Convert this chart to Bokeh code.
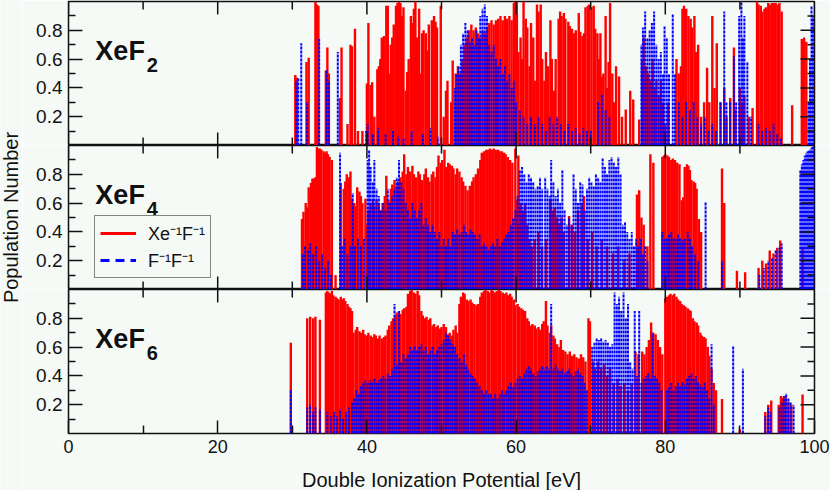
import math
from bokeh.plotting import figure
from bokeh.models import (ColumnDataSource, FixedTicker, Label, Legend, LegendItem, Title)
from bokeh.layouts import column, row
from bokeh.embed import file_html
from bokeh.resources import INLINE

# ---------------- data (position eV, population) ----------------
XEF2_RED = [(30.4,0.49),(30.6,0.47),(31.9,0.58),(32.2,0.61),(33.1,1.0),(33.3,0.98),(33.5,0.97),(34.5,0.52),(34.7,0.68),(34.9,0.50),(36.4,0.33),(36.6,0.68),(37.4,0.15),(37.8,0.70),(38.0,0.69),(38.4,0.81),(38.8,0.10),(39.4,0.10),(40.0,0.43),(40.2,0.85),(40.5,0.42),(40.7,0.44),(41.0,0.20),(41.4,0.53),(41.6,0.55),(41.8,0.60),(42.0,0.75),(42.3,0.76),(42.6,0.97),(42.8,0.97),(43.0,0.50),(43.2,0.70),(43.4,0.75),(43.6,0.84),(43.9,0.97),(44.1,0.99),(44.3,1.0),(44.5,0.99),(44.7,0.90),(44.9,0.96),(45.2,0.38),(45.4,0.51),(45.6,0.60),(45.9,0.90),(46.1,0.85),(46.3,0.95),(46.5,1.0),(46.7,0.75),(47.0,0.95),(47.2,0.50),(47.4,0.78),(47.6,0.80),(47.9,0.78),(48.1,0.66),(48.3,0.84),(48.7,0.87),(49.0,0.90),(49.2,0.86),(49.4,0.82),(49.9,0.97),(50.3,0.20),(50.6,0.38),(50.8,0.45),(51.3,0.30),(51.5,0.59),(51.9,0.50),(52.2,0.55),(52.5,0.50),(52.8,0.60),(53.1,0.70),(53.4,0.75),(53.7,0.80),(54.0,0.84),(54.3,0.80),(54.6,0.82),(54.9,0.78),(55.2,0.75),(55.5,0.80),(55.8,0.78),(56.1,0.82),(56.4,0.85),(56.7,0.87),(57.0,0.84),(57.3,0.87),(57.6,0.88),(57.9,0.90),(58.2,0.87),(58.5,0.90),(58.8,0.88),(59.1,0.90),(59.4,0.87),(59.7,0.99),(59.9,1.0),(60.1,1.0),(60.3,0.65),(60.6,0.75),(60.8,0.60),(61.0,1.0),(61.3,0.88),(61.5,0.82),(61.8,0.55),(62.0,0.85),(62.3,0.75),(62.5,0.45),(62.8,0.98),(63.0,0.93),(63.3,0.98),(63.5,0.60),(63.8,0.45),(64.0,0.65),(64.3,0.55),(64.6,0.87),(64.8,0.60),(65.1,0.38),(65.3,0.60),(65.7,0.88),(65.9,0.93),(66.1,0.90),(66.4,0.92),(66.6,0.88),(67.0,0.86),(67.2,0.83),(67.5,0.81),(67.8,0.78),(68.0,0.80),(68.4,0.92),(68.6,0.79),(68.9,0.76),(69.1,0.78),(69.3,0.96),(69.6,0.97),(69.8,0.98),(70.1,0.96),(70.4,0.97),(70.6,0.81),(70.9,0.78),(71.1,0.60),(71.3,0.78),(71.5,0.48),(71.7,0.50),(72.0,0.90),(72.2,0.40),(72.4,0.58),(72.6,0.99),(72.9,0.50),(73.1,0.30),(73.4,0.55),(73.8,0.48),(74.2,0.20),(74.7,0.25),(75.3,0.38),(75.7,0.32),(76.5,0.18),(76.9,0.60),(77.1,0.75),(77.4,0.55),(77.7,0.50),(78.0,0.45),(78.3,0.60),(78.6,0.40),(78.8,0.45),(79.1,0.35),(79.4,0.45),(79.7,0.30),(80.0,0.15),(80.4,0.30),(81.5,0.60),(81.8,0.50),(82.1,0.55),(82.3,0.95),(82.5,0.97),(82.8,0.95),(83.1,0.90),(83.4,0.88),(83.6,0.82),(83.9,0.90),(84.1,0.65),(84.4,0.70),(84.8,0.20),(85.2,0.30),(85.6,0.54),(85.9,0.30),(86.3,0.90),(86.6,0.40),(86.9,0.71),(87.4,0.30),(87.9,0.40),(88.2,0.20),(88.7,0.33),(89.2,0.68),(89.4,0.25),(90.0,0.40),(90.3,0.30),(90.6,0.35),(91.2,0.20),(91.7,0.26),(92.3,1.0),(92.5,0.98),(92.8,0.97),(93.0,0.93),(93.3,0.95),(93.5,0.96),(93.8,0.99),(94.0,0.98),(94.3,0.99),(94.6,0.99),(94.8,0.99),(95.1,0.98),(95.3,0.99),(95.6,0.93),(97.0,0.28),(98.3,0.74),(98.6,0.75),(98.9,0.72)]

XEF2_BLUE = [(30.5,0.45),(30.8,0.47),(31.2,0.71),(32.0,0.30),(33.6,0.74),(34.6,0.52),(34.9,0.45),(36.1,0.65),(39.9,0.10),(40.1,0.15),(40.8,0.08),(41.5,0.12),(42.5,0.08),(43.5,0.10),(44.2,0.06),(44.9,0.05),(46.0,0.10),(47.5,0.08),(48.5,0.12),(49.5,0.06),(51.8,0.40),(52.0,0.50),(52.3,0.55),(52.6,0.70),(52.9,0.78),(53.2,0.85),(53.5,0.80),(53.8,0.72),(54.1,0.75),(54.4,0.70),(54.7,0.80),(55.0,0.75),(55.2,0.90),(55.5,0.95),(55.8,0.98),(56.1,0.90),(56.4,0.70),(56.7,0.65),(57.0,0.70),(57.3,0.60),(57.6,0.55),(57.9,0.60),(58.2,0.50),(58.5,0.55),(58.8,0.45),(59.1,0.50),(59.4,0.40),(59.7,0.45),(60.0,0.30),(60.5,0.25),(61.0,0.20),(61.5,0.15),(62.0,0.20),(62.5,0.15),(63.0,0.20),(63.5,0.15),(64.0,0.10),(64.5,0.20),(65.0,0.15),(65.5,0.20),(66.0,0.15),(66.5,0.10),(67.0,0.15),(67.5,0.10),(68.0,0.12),(68.5,0.08),(69.0,0.12),(69.5,0.10),(70.0,0.10),(71.0,0.30),(71.5,0.35),(72.0,0.25),(72.5,0.20),(76.8,0.70),(77.0,0.82),(77.3,0.93),(77.6,0.75),(77.9,0.80),(78.2,0.85),(78.5,0.93),(78.8,0.70),(79.1,0.60),(79.4,0.65),(79.7,0.50),(79.9,0.83),(80.2,0.75),(80.5,0.50),(81.0,0.91),(81.3,0.50),(81.8,0.30),(82.3,0.20),(82.8,0.30),(83.3,0.25),(83.8,0.30),(84.3,0.20),(84.8,0.15),(85.3,0.20),(85.8,0.10),(86.3,0.15),(86.8,0.10),(87.4,0.30),(87.9,0.93),(88.2,0.30),(88.7,0.30),(89.2,0.62),(89.5,0.30),(89.9,0.90),(90.2,1.0),(90.4,0.75),(90.6,0.90),(91.0,0.58),(91.5,0.20),(92.5,0.15),(93.0,0.10),(93.5,0.12),(94.0,0.10),(94.5,0.15),(95.0,0.08),(95.5,0.05),(99.2,0.30),(99.4,0.60),(99.6,0.97),(99.8,0.90)]

XEF4_RED = [(31.3,0.49),(31.5,0.54),(31.8,0.60),(32.0,0.57),(32.2,0.71),(32.5,0.74),(32.7,0.77),(32.9,0.77),(33.1,0.78),(33.3,0.99),(33.5,0.98),(33.7,0.98),(33.9,0.97),(34.2,0.96),(34.4,0.95),(34.6,0.96),(34.8,0.94),(35.0,0.92),(35.3,0.90),(35.8,0.10),(36.5,0.74),(36.9,0.70),(37.1,0.75),(37.3,0.80),(37.6,0.78),(37.8,0.82),(38.0,0.63),(38.3,0.60),(38.5,0.58),(38.7,0.71),(39.0,0.68),(39.2,0.65),(39.4,0.60),(39.8,0.63),(40.0,0.45),(40.2,0.55),(40.5,0.60),(40.8,0.62),(41.0,0.58),(41.3,0.62),(41.6,0.60),(41.8,0.55),(42.1,0.60),(42.4,0.65),(42.6,0.79),(42.9,0.62),(43.2,0.70),(43.4,0.73),(43.7,0.76),(44.0,0.72),(44.2,0.75),(44.5,0.78),(44.8,0.82),(45.0,0.94),(45.3,0.80),(45.5,0.85),(45.8,0.82),(46.1,0.86),(46.3,0.80),(46.6,0.78),(46.9,0.82),(47.1,0.80),(47.4,0.76),(47.7,0.80),(47.9,0.84),(48.2,0.78),(48.4,0.75),(48.7,0.80),(48.9,0.82),(49.2,0.78),(49.4,0.85),(49.6,0.93),(49.9,0.88),(50.1,0.90),(50.4,0.97),(50.6,0.85),(50.9,0.88),(51.1,0.87),(51.4,0.86),(51.6,0.84),(51.9,0.80),(52.1,0.84),(52.4,0.82),(52.7,0.78),(52.9,0.75),(53.2,0.72),(53.5,0.69),(53.8,0.72),(54.1,0.75),(54.3,0.78),(54.6,0.80),(54.9,0.84),(55.2,0.90),(55.4,0.95),(55.7,0.96),(56.0,0.97),(56.2,0.97),(56.5,0.98),(56.8,0.97),(57.0,0.98),(57.3,0.97),(57.6,0.97),(57.8,0.96),(58.1,0.96),(58.4,0.95),(58.6,0.94),(58.9,0.92),(59.2,0.90),(59.5,0.88),(59.9,0.98),(60.1,0.62),(60.3,0.93),(60.6,0.60),(60.9,0.55),(61.2,0.60),(61.5,0.45),(61.8,0.35),(62.1,0.30),(62.5,0.35),(63.0,0.40),(63.5,0.30),(64.0,0.35),(64.6,0.62),(64.9,0.55),(65.2,0.57),(65.5,0.50),(65.8,0.45),(66.1,0.50),(66.4,0.40),(67.1,0.51),(67.5,0.45),(67.9,0.40),(68.3,0.55),(68.8,0.60),(69.1,0.65),(69.6,0.35),(70.2,0.40),(70.8,0.30),(71.5,0.35),(72.2,0.30),(73.0,0.25),(73.7,0.30),(74.5,0.20),(75.2,0.25),(76.2,0.66),(76.5,0.69),(76.8,0.50),(77.1,0.45),(77.6,0.30),(78.0,0.94),(78.4,0.88),(79.6,0.92),(79.8,0.93),(80.0,0.94),(80.3,0.93),(80.5,0.92),(80.8,0.90),(81.0,0.91),(81.3,0.90),(81.6,0.88),(81.9,0.87),(82.2,0.62),(82.4,0.64),(82.6,0.85),(82.9,0.87),(83.1,0.86),(83.3,0.83),(83.5,0.76),(83.8,0.75),(84.0,0.74),(84.2,0.70),(84.5,0.49),(84.8,0.40),(87.6,0.84),(87.9,0.60),(89.6,0.13),(90.7,0.12),(92.5,0.15),(93.0,0.20),(93.5,0.18),(94.0,0.27),(94.5,0.25),(95.0,0.29),(95.4,0.34),(98.4,0.28)]

XEF4_BLUE = [(31.4,0.25),(31.7,0.30),(32.1,0.28),(32.4,0.32),(32.8,0.25),(33.2,0.30),(33.6,0.20),(34.0,0.25),(34.4,0.15),(34.8,0.20),(35.2,0.10),(36.4,0.95),(36.7,0.30),(37.0,0.35),(37.4,0.25),(37.8,0.30),(38.1,0.67),(38.4,0.30),(38.8,0.35),(39.2,0.30),(39.6,0.35),(40.1,0.90),(40.3,0.97),(40.5,0.85),(40.8,0.75),(41.0,0.90),(41.3,0.70),(41.6,0.65),(41.9,0.55),(42.2,0.60),(42.5,0.55),(42.8,0.70),(43.1,0.60),(43.4,0.65),(43.7,0.70),(44.0,0.78),(44.3,0.90),(44.6,0.75),(44.9,0.70),(45.2,0.60),(45.5,0.55),(45.8,0.50),(46.1,0.60),(46.4,0.55),(46.7,0.50),(47.0,0.55),(47.3,0.60),(47.6,0.45),(47.9,0.50),(48.2,0.45),(48.5,0.40),(48.8,0.45),(49.1,0.40),(49.4,0.35),(49.7,0.40),(50.0,0.30),(50.3,0.35),(50.6,0.30),(50.9,0.35),(51.2,0.30),(51.5,0.40),(51.8,0.38),(52.1,0.42),(52.4,0.38),(52.7,0.40),(53.0,0.45),(53.3,0.40),(53.6,0.38),(53.9,0.42),(54.2,0.40),(54.5,0.38),(54.8,0.35),(55.1,0.38),(55.4,0.30),(55.7,0.32),(56.0,0.30),(56.3,0.28),(56.6,0.30),(56.9,0.32),(57.2,0.30),(57.5,0.35),(57.8,0.30),(58.1,0.33),(58.4,0.35),(58.7,0.38),(59.0,0.40),(59.3,0.45),(59.6,0.50),(59.9,0.55),(60.2,0.65),(60.5,0.83),(60.8,0.85),(61.1,0.80),(61.4,0.75),(61.7,0.80),(62.0,0.78),(62.3,0.75),(62.6,0.70),(62.9,0.72),(63.2,0.78),(63.5,0.70),(63.9,0.78),(64.2,0.70),(64.5,0.65),(64.7,0.90),(65.0,0.75),(65.3,0.65),(65.6,0.70),(65.9,0.60),(66.2,0.83),(66.5,0.55),(66.8,0.45),(67.1,0.50),(67.4,0.45),(67.7,0.80),(68.0,0.70),(68.3,0.60),(68.6,0.75),(68.9,0.73),(69.2,0.55),(69.5,0.70),(69.8,0.78),(70.1,0.75),(70.4,0.72),(70.7,0.80),(71.0,0.78),(71.3,0.75),(71.6,0.91),(71.9,0.85),(72.2,0.80),(72.5,0.90),(72.8,0.92),(73.1,0.88),(73.4,0.85),(73.7,0.92),(74.0,0.80),(74.3,0.45),(74.6,0.47),(74.9,0.40),(75.2,0.35),(75.5,0.40),(75.8,0.30),(76.1,0.35),(76.4,0.30),(76.7,0.35),(77.0,0.25),(77.3,0.30),(77.6,0.20),(79.6,0.40),(79.9,0.35),(80.2,0.36),(80.5,0.38),(80.8,0.40),(81.1,0.36),(81.4,0.35),(81.7,0.38),(82.0,0.36),(82.3,0.34),(82.6,0.35),(83.0,0.40),(83.3,0.35),(83.6,0.30),(84.0,0.25),(84.4,0.20),(85.4,0.61),(87.6,0.20),(92.6,0.10),(93.2,0.15),(93.8,0.20),(94.3,0.22),(94.8,0.27),(95.3,0.29),(95.6,0.32),(98.1,0.83),(98.3,0.87),(98.5,0.90),(98.7,0.93),(98.9,0.95),(99.1,0.96),(99.3,0.97),(99.5,0.98),(99.7,0.99),(99.9,1.0)]

XEF6_RED = [(29.8,0.63),(32.0,0.80),(32.4,0.81),(32.8,0.80),(33.1,0.81),(33.7,0.79),(34.5,0.98),(34.7,0.99),(34.9,0.98),(35.1,0.97),(35.3,0.99),(35.5,0.96),(35.8,0.95),(36.0,0.94),(36.2,0.93),(36.5,0.95),(36.7,0.93),(36.9,0.94),(37.1,0.92),(37.4,0.90),(37.6,0.88),(37.8,0.87),(38.0,0.85),(38.2,0.70),(38.5,0.72),(38.7,0.74),(39.0,0.71),(39.2,0.70),(39.5,0.72),(39.7,0.69),(40.0,0.68),(40.2,0.70),(40.5,0.68),(40.7,0.67),(41.0,0.69),(41.2,0.68),(41.5,0.66),(41.7,0.68),(42.0,0.66),(42.3,0.67),(42.5,0.68),(42.8,0.72),(43.0,0.75),(43.3,0.78),(43.5,0.80),(43.8,0.82),(44.0,0.84),(44.3,0.85),(44.5,0.83),(44.8,0.86),(45.0,0.87),(45.3,0.88),(45.5,0.97),(45.8,0.99),(46.0,1.0),(46.3,0.98),(46.5,0.97),(46.8,0.99),(47.0,0.96),(47.3,0.85),(47.5,0.82),(47.8,0.80),(48.0,0.81),(48.3,0.79),(48.5,0.80),(48.8,0.75),(49.0,0.76),(49.3,0.74),(49.5,0.75),(49.8,0.73),(50.0,0.74),(50.3,0.76),(50.6,0.74),(50.9,0.69),(51.1,0.70),(51.4,0.68),(51.6,0.72),(51.9,0.75),(52.1,0.70),(52.4,0.90),(52.6,0.95),(52.9,0.98),(53.1,0.97),(53.4,0.93),(53.6,0.92),(53.9,0.93),(54.1,0.91),(54.4,0.90),(54.7,0.89),(54.9,0.90),(55.2,0.95),(55.4,0.98),(55.7,0.99),(55.9,1.0),(56.2,0.99),(56.4,0.98),(56.7,1.0),(56.9,0.99),(57.2,0.98),(57.4,0.99),(57.7,1.0),(57.9,0.99),(58.2,0.98),(58.4,0.97),(58.7,0.98),(58.9,0.96),(59.2,0.97),(59.4,0.95),(59.7,0.93),(59.9,0.89),(60.2,0.90),(60.4,0.88),(60.7,0.87),(60.9,0.86),(61.2,0.85),(61.5,0.80),(61.7,0.78),(62.0,0.75),(62.2,0.76),(62.5,0.75),(62.7,0.73),(63.0,0.74),(63.2,0.72),(63.5,0.76),(63.7,0.78),(64.0,0.92),(64.2,0.75),(64.5,0.70),(64.7,0.75),(65.0,0.68),(65.2,0.66),(65.5,0.62),(65.8,0.60),(66.0,0.65),(66.3,0.58),(66.6,0.57),(66.9,0.55),(67.2,0.57),(67.5,0.54),(67.8,0.55),(68.1,0.53),(68.4,0.52),(68.7,0.55),(69.0,0.53),(69.3,0.50),(69.7,0.80),(69.9,0.78),(70.3,0.50),(70.6,0.45),(71.0,0.50),(71.4,0.45),(71.8,0.48),(72.2,0.40),(72.6,0.45),(73.1,0.35),(73.6,0.38),(74.0,0.33),(74.5,0.35),(75.0,0.30),(75.5,0.35),(76.0,0.57),(76.4,0.55),(76.9,0.57),(77.2,0.55),(77.5,0.60),(77.8,0.65),(78.1,0.77),(78.4,0.70),(78.7,0.69),(79.0,0.65),(79.3,0.60),(79.6,0.55),(80.0,0.94),(80.2,0.95),(80.5,0.96),(80.7,0.97),(81.0,0.96),(81.2,0.97),(81.5,0.95),(81.7,0.93),(82.0,0.92),(82.2,0.90),(82.5,0.89),(82.7,0.88),(83.0,0.87),(83.2,0.86),(83.4,0.85),(83.7,0.80),(83.9,0.78),(84.2,0.77),(84.4,0.75),(84.7,0.70),(84.9,0.68),(85.2,0.67),(85.4,0.66),(85.7,0.60),(85.9,0.54),(86.2,0.45),(86.5,0.35),(86.8,0.30),(87.6,0.24),(90.0,0.03),(93.4,0.15),(93.8,0.20),(94.2,0.23),(95.2,0.20),(95.5,0.26),(95.8,0.25),(96.1,0.26),(96.5,0.22),(96.9,0.20),(98.4,0.27)]

XEF6_BLUE = [(29.8,0.30),(32.0,0.18),(32.4,0.20),(32.8,0.15),(33.1,0.18),(33.7,0.17),(34.7,0.15),(35.2,0.12),(35.6,0.15),(36.0,0.12),(36.4,0.17),(36.8,0.10),(37.2,0.15),(37.6,0.18),(38.0,0.22),(38.3,0.25),(38.6,0.30),(38.9,0.28),(39.2,0.33),(39.5,0.35),(39.8,0.37),(40.1,0.35),(40.4,0.37),(40.7,0.36),(41.0,0.38),(41.3,0.35),(41.6,0.37),(41.9,0.38),(42.2,0.40),(42.5,0.38),(42.8,0.42),(43.1,0.40),(43.4,0.45),(43.7,0.90),(44.0,0.48),(44.3,0.85),(44.6,0.50),(44.9,0.55),(45.2,0.52),(45.5,0.55),(45.8,0.60),(46.1,0.58),(46.4,0.61),(46.7,0.58),(47.0,0.60),(47.3,0.62),(47.6,0.58),(47.9,0.60),(48.2,0.55),(48.5,0.58),(48.8,0.60),(49.1,0.55),(49.4,0.58),(49.7,0.60),(50.0,0.62),(50.3,0.65),(50.6,0.70),(50.9,0.68),(51.2,0.65),(51.5,0.62),(51.8,0.60),(52.1,0.55),(52.4,0.52),(52.7,0.50),(53.0,0.55),(53.3,0.48),(53.6,0.45),(53.9,0.42),(54.2,0.40),(54.5,0.38),(54.8,0.35),(55.1,0.33),(55.4,0.30),(55.7,0.28),(56.0,0.30),(56.3,0.27),(56.6,0.28),(56.9,0.25),(57.2,0.28),(57.5,0.25),(57.8,0.27),(58.1,0.30),(58.4,0.28),(58.7,0.30),(59.0,0.33),(59.3,0.35),(59.6,0.32),(59.9,0.35),(60.2,0.38),(60.5,0.40),(60.8,0.38),(61.1,0.42),(61.4,0.45),(61.7,0.47),(62.0,0.45),(62.3,0.42),(62.6,0.40),(62.9,0.43),(63.2,0.45),(63.5,0.47),(63.8,0.45),(64.1,0.47),(64.4,0.45),(64.7,0.90),(65.0,0.45),(65.3,0.48),(65.6,0.45),(65.9,0.43),(66.2,0.45),(66.5,0.42),(66.8,0.43),(67.1,0.45),(67.4,0.42),(67.7,0.40),(68.0,0.43),(68.3,0.45),(68.6,0.42),(68.9,0.40),(69.2,0.35),(69.5,0.30),(70.2,0.60),(70.5,0.63),(70.8,0.66),(71.1,0.65),(71.4,0.66),(71.7,0.64),(72.0,0.65),(72.3,0.63),(72.6,0.60),(72.9,0.62),(73.2,0.98),(73.5,0.90),(73.8,0.95),(74.1,0.85),(74.4,0.98),(74.7,0.80),(75.0,0.90),(75.3,0.50),(75.6,0.45),(75.9,0.85),(76.2,0.40),(76.5,0.85),(76.8,0.35),(77.1,0.38),(77.4,0.40),(77.7,0.42),(78.0,0.38),(78.3,0.70),(78.6,0.40),(78.9,0.38),(79.2,0.35),(79.5,0.30),(80.2,0.30),(80.5,0.32),(80.8,0.35),(81.1,0.30),(81.4,0.33),(81.7,0.35),(82.0,0.33),(82.3,0.36),(82.6,0.34),(82.9,0.38),(83.2,0.40),(83.5,0.42),(83.8,0.38),(84.1,0.40),(84.4,0.36),(84.7,0.34),(85.0,0.32),(85.3,0.35),(85.6,0.30),(85.9,0.25),(86.2,0.62),(86.5,0.20),(89.1,0.61),(90.4,0.45),(93.4,0.12),(93.8,0.18),(94.1,0.15),(95.3,0.18),(95.6,0.22),(95.9,0.26),(96.2,0.28),(96.5,0.25),(96.8,0.22),(97.2,0.20)]

MOLECULES = [("XeF", "2"), ("XeF", "4"), ("XeF", "6")]
SERIES_LABELS = ["Xe\u207b\u00b9F\u207b\u00b9", "F\u207b\u00b9F\u207b\u00b9"]
X_TICKS = [0, 20, 40, 60, 80, 100]
X_MINOR = [10, 30, 50, 70, 90]
Y_TICKS = [0.2, 0.4, 0.6, 0.8]
Y_MINOR = [0.1, 0.3, 0.5, 0.7, 0.9]
X_TITLE = "Double Ionization Potential [eV]"
Y_TITLE = "Population Number"

# ---------------- style ----------------
BG = "#f6faf6"
FONT = "Liberation Sans"
INK = "#111111"
RED = "#ff0000"
BLUE = "#0000ff"
FRAME_W = 746
FRAME_H = 144
TITLE_W = 22
TOTAL_H = 490


def style_axis(ax, ticks, minor, tick_len, minor_len, font_px):
    ax.ticker = FixedTicker(ticks=ticks, minor_ticks=minor)
    ax.axis_line_color = None
    ax.major_tick_in = tick_len
    ax.major_tick_out = 0
    ax.minor_tick_in = minor_len
    ax.minor_tick_out = 0
    ax.major_tick_line_width = 1.5
    ax.minor_tick_line_width = 1.5
    ax.major_tick_line_color = INK
    ax.minor_tick_line_color = INK
    ax.major_label_text_font = FONT
    ax.major_label_text_font_size = font_px
    ax.major_label_text_color = INK
    ax.major_label_standoff = 6


def edge_ticks(p, bottom_axis):
    """Inward ticks on the unlabeled frame edges (top, right, and bottom when no axis)."""
    kw = dict(line_color=INK, line_width=1.5, length_units="screen")
    p.ray(x=X_TICKS, y=[1] * len(X_TICKS), length=13, angle=-math.pi / 2, **kw)
    p.ray(x=X_MINOR, y=[1] * len(X_MINOR), length=8, angle=-math.pi / 2, **kw)
    p.ray(x=[100] * len(Y_TICKS), y=Y_TICKS, length=14, angle=math.pi, **kw)
    p.ray(x=[100] * len(Y_MINOR), y=Y_MINOR, length=7, angle=math.pi, **kw)
    if not bottom_axis:
        p.ray(x=X_TICKS, y=[0] * len(X_TICKS), length=13, angle=math.pi / 2, **kw)
        p.ray(x=X_MINOR, y=[0] * len(X_MINOR), length=8, angle=math.pi / 2, **kw)


def split(pairs):
    xs = [a for a, _ in pairs]
    hs = [b for _, b in pairs]
    return dict(x=xs, y0=[0.0] * len(xs), h=hs)


def make_panel(idx, red, blue, first, bottom):
    p = figure(frame_width=FRAME_W, frame_height=FRAME_H,
               x_range=(0, 100), y_range=(0, 1),
               x_axis_location=("below" if bottom else None),
               output_backend="svg", toolbar_location=None,
               min_border_left=68 - TITLE_W, min_border_right=16,
               min_border_top=(1 if first else 0),
               min_border_bottom=(57 if bottom else 0),
               background_fill_color=BG, border_fill_color=BG,
               outline_line_color=INK, outline_line_width=1.5)
    p.xgrid.visible = False
    p.ygrid.visible = False
    if bottom:
        style_axis(p.xaxis[0], X_TICKS, X_MINOR, 13, 8, "18px")
    style_axis(p.yaxis[0], Y_TICKS, Y_MINOR, 14, 7, "19px")

    rs = ColumnDataSource(split(red))
    bs = ColumnDataSource(split(blue))
    p.segment(x0="x", y0="y0", x1="x", y1="h", source=rs,
              line_color=RED, line_width=2.4)
    p.segment(x0="x", y0="y0", x1="x", y1="h", source=bs,
              line_color=BLUE, line_width=2.0, line_dash="3 1")
    edge_ticks(p, bottom)

    name, sub = MOLECULES[idx]
    p.add_layout(Label(x=3.6, y=0.655, text=name, text_font=FONT,
                       text_font_style="bold", text_font_size="27px",
                       text_color=INK, text_baseline="alphabetic"))
    p.add_layout(Label(x=10.5, y=0.56, text=sub, text_font=FONT,
                       text_font_style="bold", text_font_size="20px",
                       text_color=INK, text_baseline="alphabetic"))
    return p


p1 = make_panel(0, XEF2_RED, XEF2_BLUE, True, False)
p2 = make_panel(1, XEF4_RED, XEF4_BLUE, False, False)
p3 = make_panel(2, XEF6_RED, XEF6_BLUE, False, True)

# legend in the middle panel: legend-only line styles (no visible points)
nan = float("nan")
lr = p2.line(x=[nan], y=[nan], line_color=RED, line_width=3)
lb = p2.line(x=[nan], y=[nan], line_color=BLUE, line_width=3, line_dash="9 6")
legend = Legend(items=[LegendItem(label=SERIES_LABELS[0], renderers=[lr]),
                       LegendItem(label=SERIES_LABELS[1], renderers=[lb])],
                location=(26, 11), orientation="vertical",
                border_line_color=INK, border_line_width=1.5,
                background_fill_color=BG, background_fill_alpha=1.0,
                label_text_font=FONT, label_text_font_size="18px",
                label_text_color=INK,
                glyph_width=36, glyph_height=20, label_standoff=12,
                padding=5, spacing=3, margin=0)
p2.add_layout(legend)

# x title: title panel below the bottom panel
p3.add_layout(Title(text=X_TITLE, align="center", offset=11, standoff=22,
                    text_font=FONT, text_font_size="20px",
                    text_font_style="normal", text_color=INK), "below")

# y title: a narrow strip to the left spanning all three panels
ytitle = figure(width=TITLE_W, height=TOTAL_H, x_range=(0, 1), y_range=(0, 1),
                x_axis_location=None, y_axis_location=None,
                output_backend="svg", toolbar_location=None,
                min_border=0, outline_line_color=None,
                background_fill_color=BG, border_fill_color=BG)
ytitle.xgrid.visible = False
ytitle.ygrid.visible = False
ytitle.add_layout(Label(x=0.47, y=1 - 217 / TOTAL_H, text=Y_TITLE, angle=math.pi / 2,
                        text_font=FONT, text_font_size="20px", text_color=INK,
                        text_align="center", text_baseline="middle"))

layout = row(ytitle, column(p1, p2, p3))
open("out.html", "w").write(file_html(layout, INLINE))
